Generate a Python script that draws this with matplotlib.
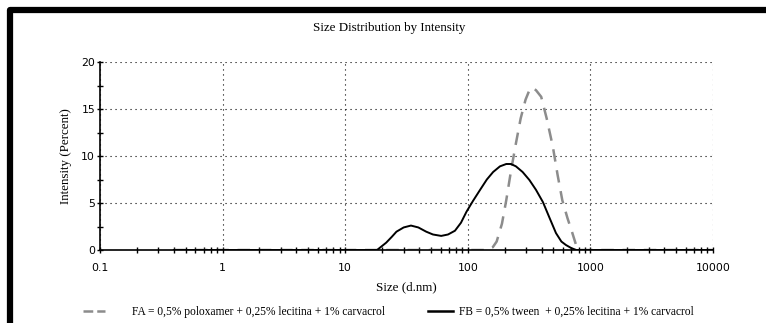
import numpy as np
import matplotlib
matplotlib.use("Agg")
import matplotlib.pyplot as plt
from matplotlib.lines import Line2D
from matplotlib.ticker import FixedLocator, LogLocator, NullFormatter

# size (d.nm) and intensity (%)
fa_size = [0.4, 1, 10, 100, 141, 160, 172, 190, 206, 225, 247, 270, 296, 318, 335,
           360, 397, 440, 494, 540, 590, 650, 713, 787, 1000, 10000]
fa_int = [0, 0, 0, 0, 0, 0.3, 0.9, 2.8, 5.3, 8.4, 11.35, 14.0, 16.0, 17.0, 17.3,
          17.0, 16.3, 14.0, 11.0, 8.0, 5.3, 3.4, 1.8, 0, 0, 0]

fb_size = [0.4, 1, 10, 18.2, 21.6, 24.0, 26.2, 30.0, 34.4, 39.5, 45.8, 52.0, 60.7,
           69.0, 78.6, 88.0, 97.6, 110, 126, 143, 161, 183, 206, 225, 247, 280,
           318, 360, 410, 465, 524, 580, 632, 700, 767, 1000, 10000]
fb_int = [0, 0, 0, 0, 0.78, 1.4, 1.95, 2.4, 2.6, 2.4, 1.95, 1.65, 1.5,
          1.65, 2.05, 2.9, 4.07, 5.2, 6.4, 7.5, 8.3, 8.9, 9.15, 9.15, 8.9, 8.3,
          7.45, 6.4, 5.1, 3.4, 1.8, 0.9, 0.53, 0.2, 0, 0, 0]

fa_label = "FA = 0,5% poloxamer + 0,25% lecitina + 1% carvacrol"
fb_label = "FB = 0,5% tween  + 0,25% lecitina + 1% carvacrol"

serif = "Liberation Serif"
fa_color = "#8c8c8c"

fig = plt.figure(figsize=(7.66, 3.23), dpi=100)
ax = fig.add_axes([0.1305, 0.226, 0.8003, 0.582])

ax.plot(fa_size, fa_int, color=fa_color, lw=1.8, dashes=(5, 3.5))
ax.plot(fb_size, fb_int, color="black", lw=1.4)

ax.set_xscale("log")
ax.set_xlim(0.1, 10000)
ax.set_ylim(0, 20)
ax.set_xticks([0.1, 1, 10, 100, 1000, 10000])
ax.set_xticklabels(["0.1", "1", "10", "100", "1000", "10000"])
ax.xaxis.set_minor_locator(LogLocator(base=10, subs=np.arange(2, 10)))
ax.xaxis.set_minor_formatter(NullFormatter())
ax.set_yticks([0, 5, 10, 15, 20])
ax.yaxis.set_minor_locator(FixedLocator([2.5, 7.5, 12.5, 17.5]))

for s in ("top", "right"):
    ax.spines[s].set_visible(False)
ax.spines["left"].set_linewidth(1.2)
ax.spines["bottom"].set_linewidth(1.2)
ax.tick_params(which="both", direction="inout", length=5, width=1, labelsize=7.8)
ax.tick_params(axis="x", which="major", pad=7)
ax.tick_params(axis="y", which="major", pad=1)
ax.tick_params(axis="x", which="minor", length=4)
ax.grid(True, which="major", color="black", linestyle=(0, (1, 3.5)), lw=0.8)
ax.set_axisbelow(True)

fig.text(389 / 766, 1 - 27.5 / 323, "Size Distribution by Intensity",
         family=serif, fontsize=9.4, ha="center", va="center")
ax.set_xlabel("Size (d.nm)", fontfamily=serif, fontsize=9.4, labelpad=6)
ax.set_ylabel("Intensity (Percent)", fontfamily=serif, fontsize=9.4, labelpad=7)

# legend: two entries placed where they sit in the reference
fa_handle = Line2D([], [], color=fa_color, lw=1.8, dashes=(3.9, 1.6))
fb_handle = Line2D([], [], color="black", lw=1.8)
leg_kw = dict(loc="center left", frameon=False, prop={"family": serif, "size": 8.3},
              borderpad=0, borderaxespad=0)
fig.legend([fa_handle], [fa_label], bbox_to_anchor=(83 / 766, 1 - 312 / 323),
           handlelength=1.95, handletextpad=2.3, **leg_kw)
fig.legend([fb_handle], [fb_label], bbox_to_anchor=(428 / 766, 1 - 312 / 323),
           handlelength=2.2, handletextpad=0.45, **leg_kw)

# thick frame around the page snippet (runs off right and bottom edges)
x0, y0 = 10 / 766, 1 - 10 / 323
frame = Line2D([x0, x0, 1.1], [-0.1, y0, y0], transform=fig.transFigure,
               color="black", lw=4.5, solid_joinstyle="round")
fig.lines.append(frame)

fig.savefig("out.png", dpi=100)
